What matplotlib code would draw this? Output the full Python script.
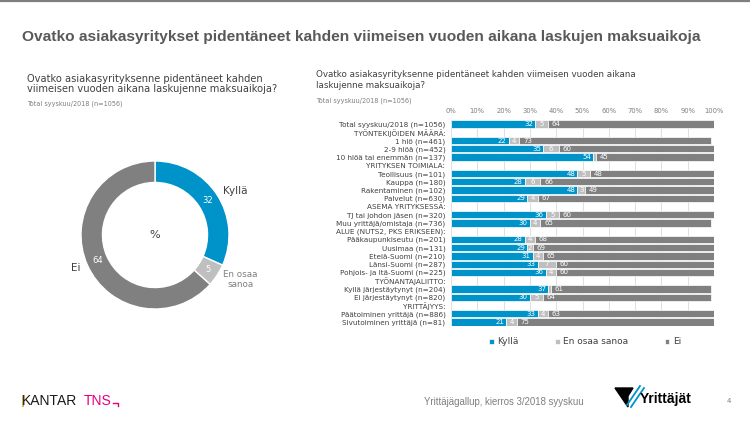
import matplotlib
matplotlib.use("Agg")
import matplotlib.pyplot as plt
from matplotlib.patches import Polygon
import numpy as np

W, H = 750, 422

def fx(px):
    return px / W

def fy(py):
    return 1 - py / H

BLUE = "#0093c9"
LIGHT = "#bfbfbf"
DARK = "#808080"
TXT = "#404040"

# donut data
pie_labels = ["Kyllä", "En osaa\nsanoa", "Ei"]
pie_values = [32, 5, 64]

# bar chart data (None = group header row)
categories = [
    "Total syyskuu/2018 (n=1056)",
    "TYÖNTEKIJÖIDEN MÄÄRÄ:",
    "1 hlö (n=461)",
    "2-9 hlöä (n=452)",
    "10 hlöä tai enemmän (n=137)",
    "YRITYKSEN TOIMIALA:",
    "Teollisuus (n=101)",
    "Kauppa (n=180)",
    "Rakentaminen (n=102)",
    "Palvelut (n=630)",
    "ASEMA YRITYKSESSÄ:",
    "TJ tai johdon jäsen (n=320)",
    "Muu yrittäjä/omistaja (n=736)",
    "ALUE (NUTS2, PKS ERIKSEEN):",
    "Pääkaupunkiseutu (n=201)",
    "Uusimaa (n=131)",
    "Etelä-Suomi (n=210)",
    "Länsi-Suomi (n=287)",
    "Pohjois- ja Itä-Suomi (n=225)",
    "TYÖNANTAJALIITTO:",
    "Kyllä järjestäytynyt (n=204)",
    "Ei järjestäytynyt (n=820)",
    "YRITTÄJYYS:",
    "Päätoiminen yrittäjä (n=886)",
    "Sivutoiminen yrittäjä (n=81)",
]
kylla = [32, None, 22, 35, 54, None, 48, 28, 48, 29, None, 36, 30, None,
         28, 29, 31, 33, 36, None, 37, 30, None, 33, 21]
eos = [5, None, 4, 6, 1, None, 5, 6, 3, 4, None, 5, 4, None,
       4, 2, 4, 7, 4, None, 1, 5, None, 4, 4]
ei = [64, None, 73, 60, 45, None, 48, 66, 49, 67, None, 60, 65, None,
      68, 69, 65, 60, 60, None, 61, 64, None, 63, 75]
ticks = np.arange(0, 101, 10)

fig = plt.figure(figsize=(7.5, 4.22), dpi=100)

# top rule
fig.add_artist(plt.Line2D([0, 1], [fy(0.8), fy(0.8)], color="#7f7f7f", lw=1.6))

fig.text(fx(22), fy(37), "Ovatko asiakasyritykset pidentäneet kahden viimeisen vuoden aikana laskujen maksuaikoja",
         family="Liberation Sans", weight="bold", fontsize=11.15,
         color="#595959", va="center")

# left block
fig.text(fx(27), fy(84), "Ovatko asiakasyrityksenne pidentäneet kahden\nviimeisen vuoden aikana laskujenne maksuaikoja?",
         fontsize=7.1, color=TXT, va="center", linespacing=1.1)
fig.text(fx(27), fy(104), "Total syyskuu/2018 (n=1056)", fontsize=4.7, color="#7f7f7f", va="center")

# right block
fig.text(fx(316), fy(80), "Ovatko asiakasyrityksenne pidentäneet kahden viimeisen vuoden aikana\nlaskujenne maksuaikoja?",
         fontsize=6.35, color=TXT, va="center", linespacing=1.15)
fig.text(fx(316), fy(101), "Total syyskuu/2018 (n=1056)", fontsize=4.7, color="#7f7f7f", va="center")

# donut
r_px = 74
pax = fig.add_axes([fx(155 - r_px), fy(235 + r_px), 2 * r_px / W, 2 * r_px / H])
total = sum(pie_values)
wedges, texts, autotexts = pax.pie(
    pie_values, labels=pie_labels, colors=[BLUE, LIGHT, DARK], startangle=90,
    counterclock=False, radius=1, labeldistance=1.1, pctdistance=0.85,
    autopct=lambda p: f"{p * total / 100:.0f}",
    wedgeprops=dict(width=0.29, edgecolor="white", linewidth=1.0),
    textprops=dict(fontsize=7.5, color=TXT))
for t in autotexts:
    t.set_color("white")
    t.set_fontsize(6)
texts[1].set_color("#7f7f7f")
texts[1].set_fontsize(6.3)
texts[1].set_ha("left")
texts[1].set_multialignment("center")
pax.text(0, 0, "%", ha="center", va="center", fontsize=8, color=TXT)
pax.set_xlim(-1, 1)
pax.set_ylim(-1, 1)
pax.axis("off")

# stacked bars
top_px, bot_px = 119.9, 326.1
ax = fig.add_axes([fx(451), fy(bot_px), 263 / W, (bot_px - top_px) / H])
n = len(categories)
y = np.arange(n)
rows = [i for i in range(n) if kylla[i] is not None]
k = np.array([kylla[i] for i in rows], float)
e = np.array([eos[i] for i in rows], float)
d = np.array([ei[i] for i in rows], float)
yr = np.array(rows)

bh = 0.86
b1 = ax.barh(yr, k, height=bh, color=BLUE, edgecolor="white", linewidth=0.5, label="Kyllä", zorder=2)
b2 = ax.barh(yr, e, left=k, height=bh, color=LIGHT, edgecolor="white", linewidth=0.5, label="En osaa sanoa", zorder=2)
b3 = ax.barh(yr, d, left=k + e, height=bh, color=DARK, edgecolor="white", linewidth=0.5, label="Ei", zorder=2)

for yi, a, b, c in zip(yr, k, e, d):
    ax.text(a - 0.8, yi, f"{a:.0f}", ha="right", va="center", color="white", fontsize=5, zorder=3)
    if b >= 2:
        ax.text(a + b / 2, yi, f"{b:.0f}", ha="center", va="center", color="white", fontsize=5, zorder=3)
    ax.text(a + b + 1.4, yi, f"{c:.0f}", ha="left", va="center", color="white", fontsize=5, zorder=3)

ax.set_xlim(0, 100)
ax.set_ylim(n - 0.5, -0.5)
ax.set_xticks(ticks)
ax.set_xticklabels([f"{t}%" for t in ticks])
ax.xaxis.tick_top()
ax.set_yticks(y)
ax.set_yticklabels(categories)
ax.tick_params(axis="x", length=0, labelsize=4.9, labelcolor="#7f7f7f", pad=4)
ax.tick_params(axis="y", length=0, labelsize=5.2, labelcolor=TXT, pad=4)
ax.grid(axis="x", color="#d9d9d9", lw=0.6, zorder=0)
for s in ax.spines.values():
    s.set_visible(False)

ax.legend(handles=[b1, b2, b3], loc="center", bbox_to_anchor=(fx(585), fy(342)),
          bbox_transform=fig.transFigure, ncol=3, frameon=False, fontsize=6.5,
          handlelength=0.55, handleheight=0.55, handletextpad=0.4, columnspacing=4.0,
          labelcolor=TXT)

# footer
fig.text(fx(22), fy(401), "KANTAR", fontsize=10, color="#1a1a1a", va="center",
         family="Liberation Sans")
fig.add_artist(plt.Line2D([fx(22.6), fx(22.6)], [fy(396), fy(406)], color="#c9a227", lw=1.2))
fig.text(fx(84), fy(401), "TNS", fontsize=10, color="#e5007d", va="center", family="Liberation Sans")
fig.add_artist(plt.Line2D([fx(113), fx(118), fx(118)], [fy(403), fy(403), fy(406)],
                          color="#e5007d", lw=1.0))
fig.text(fx(424), fy(402), "Yrittäjägallup, kierros 3/2018 syyskuu", fontsize=6.9, color="#7f7f7f",
         va="center", family="Liberation Sans")
fig.add_artist(Polygon([[fx(615), fy(388)], [fx(633), fy(388)], [fx(628), fy(396)], [fx(628), fy(407)]],
                       closed=True, color="black", transform=fig.transFigure))
fig.add_artist(plt.Line2D([fx(627), fx(640)], [fy(405), fy(386)], color="#0093c9", lw=1.3))
fig.add_artist(plt.Line2D([fx(631), fx(644)], [fy(407), fy(388)], color="#0093c9", lw=1.3))
fig.text(fx(640), fy(399), "Yrittäjät", fontsize=10, weight="bold", color="black", va="center",
         family="Liberation Sans")
fig.text(fx(727), fy(401), "4", fontsize=5, color="#7f7f7f", va="center")

fig.savefig("out.png", dpi=100)
